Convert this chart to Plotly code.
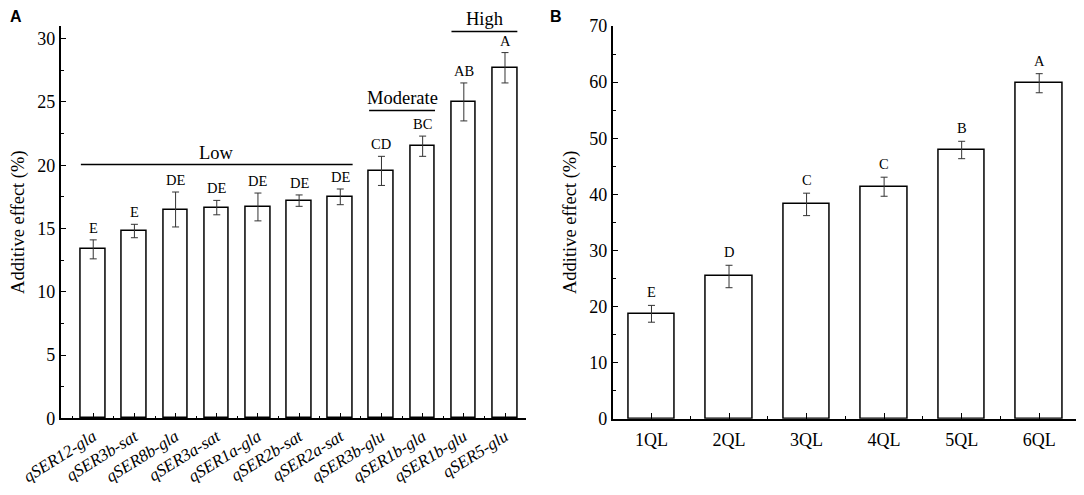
import plotly.graph_objects as go

# Panel A: single QTLs
qtl_names = ["qSER12-gla", "qSER3b-sat", "qSER8b-gla", "qSER3a-sat", "qSER1a-gla",
             "qSER2b-sat", "qSER2a-sat", "qSER3b-glu", "qSER1b-gla", "qSER1b-glu",
             "qSER5-glu"]
qtl_effect = [13.35, 14.8, 16.5, 16.65, 16.7, 17.2, 17.5, 19.55, 21.5, 25.0, 27.7]
qtl_err = [0.75, 0.53, 1.38, 0.57, 1.1, 0.45, 0.62, 1.15, 0.8, 1.5, 1.2]
qtl_letters = ["E", "E", "DE", "DE", "DE", "DE", "DE", "CD", "BC", "AB", "A"]

# effect groups: label, first bar, last bar, bracket level
group_names = ["Low", "Moderate", "High"]
group_first = [0, 7, 9]
group_last = [6, 8, 10]
group_level = [20.05, 24.33, 30.57]

# Panel B: number of QTLs pyramided
count_names = ["1QL", "2QL", "3QL", "4QL", "5QL", "6QL"]
count_effect = [18.7, 25.35, 38.2, 41.35, 47.9, 59.8]
count_err = [1.5, 2.0, 2.0, 1.7, 1.55, 1.7]
count_letters = ["E", "D", "C", "C", "B", "A"]

SERIF = "Liberation Serif, Times New Roman, serif"
BAR_W = 0.6
W, H = 1084, 495

fig = go.Figure()


def add_bars(xs, ys, errs, xa, ya):
    fig.add_trace(go.Bar(
        x=xs, y=ys, width=BAR_W,
        marker=dict(color="white", line=dict(color="black", width=1.5)),
        error_y=dict(type="data", array=errs, visible=True,
                     color="#333333", thickness=1, width=3.5),
        xaxis=xa, yaxis=ya, showlegend=False, hoverinfo="skip",
    ))


pos_a = list(range(len(qtl_names)))
pos_b = list(range(len(count_names)))
add_bars(pos_a, qtl_effect, qtl_err, "x", "y")
add_bars(pos_b, count_effect, count_err, "x2", "y2")

annotations = []
# significance letters
for i, (v, e, t) in enumerate(zip(qtl_effect, qtl_err, qtl_letters)):
    annotations.append(dict(x=i, y=v + e, text=t, xref="x", yref="y",
                            showarrow=False, yanchor="bottom", yshift=2,
                            font=dict(family=SERIF, size=14.5, color="black")))
for i, (v, e, t) in enumerate(zip(count_effect, count_err, count_letters)):
    annotations.append(dict(x=i, y=v + e, text=t, xref="x2", yref="y2",
                            showarrow=False, yanchor="bottom", yshift=3,
                            font=dict(family=SERIF, size=14.5, color="black")))

# group brackets
shapes = []
for name, a, b, lvl in zip(group_names, group_first, group_last, group_level):
    shapes.append(dict(type="line", xref="x", yref="y",
                       x0=a - BAR_W / 2, x1=b + BAR_W / 2, y0=lvl, y1=lvl,
                       line=dict(color="black", width=1.5)))
    annotations.append(dict(x=(a + b) / 2, y=lvl, text=name, xref="x", yref="y",
                            showarrow=False, yanchor="bottom", yshift=0,
                            font=dict(family=SERIF, size=18.5, color="black")))

# panel letters
for lab, px, anchor in [("A", 0, "left"), ("B", 548, "center")]:
    annotations.append(dict(x=px / W, y=1, xref="paper", yref="paper",
                            text="<b>" + lab + "</b>", showarrow=False,
                            xanchor=anchor, yanchor="top", yshift=2,
                            font=dict(family="Liberation Sans, Arial, sans-serif",
                                      size=16, color="black")))

axis_common = dict(showline=True, linecolor="black", linewidth=1.5,
                   ticks="inside", tickcolor="black", tickwidth=1.2,
                   showgrid=False, zeroline=False, automargin=False,
                   tickfont=dict(family=SERIF, size=18, color="black"))

title_font = dict(family=SERIF, size=18.5, color="black")

fig.update_layout(
    width=W, height=H,
    margin=dict(l=0, r=0, t=0, b=0),
    paper_bgcolor="white", plot_bgcolor="white",
    bargap=0,
    xaxis=dict(domain=[52.7 / W, 518 / W], anchor="y",
               range=[-0.79, 10.51],
               tickmode="array", tickvals=pos_a,
               ticktext=["<i>" + n + "</i>" for n in qtl_names],
               tickangle=-32, ticklen=6,
               minor=dict(ticks="inside", tickmode="linear", tick0=-0.5, dtick=1,
                          ticklen=3, tickcolor="black", tickwidth=1.2),
               **{**axis_common,
                  "tickfont": dict(family=SERIF, size=17, color="black")}),
    yaxis=dict(domain=[1 - 410.3 / H, 1 - 18 / H], anchor="x",
               range=[0, 31], tickmode="linear", tick0=0, dtick=5, ticklen=6,
               minor=dict(ticks="inside", dtick=2.5, ticklen=3.5,
                          tickcolor="black", tickwidth=1.2),
               title=dict(text="Additive effect (%)", standoff=8, font=title_font),
               **axis_common),
    xaxis2=dict(domain=[604.7 / W, 1070 / W], anchor="y2",
                range=[-0.5, 5.5],
                tickmode="array", tickvals=pos_b, ticktext=count_names,
                ticklen=6, ticklabelstandoff=4,
                minor=dict(ticks="inside", tickmode="linear", tick0=-0.5, dtick=1,
                           ticklen=3, tickcolor="black", tickwidth=1.2),
                **axis_common),
    yaxis2=dict(domain=[1 - 410.7 / H, 1 - 18 / H], anchor="x2",
                range=[0, 70], tickmode="linear", tick0=0, dtick=10, ticklen=6,
                minor=dict(ticks="inside", dtick=5, ticklen=3.5,
                           tickcolor="black", tickwidth=1.2),
                title=dict(text="Additive effect (%)", standoff=8, font=title_font),
                **axis_common),
    annotations=annotations,
    shapes=shapes,
)

fig.write_html("out.html")
